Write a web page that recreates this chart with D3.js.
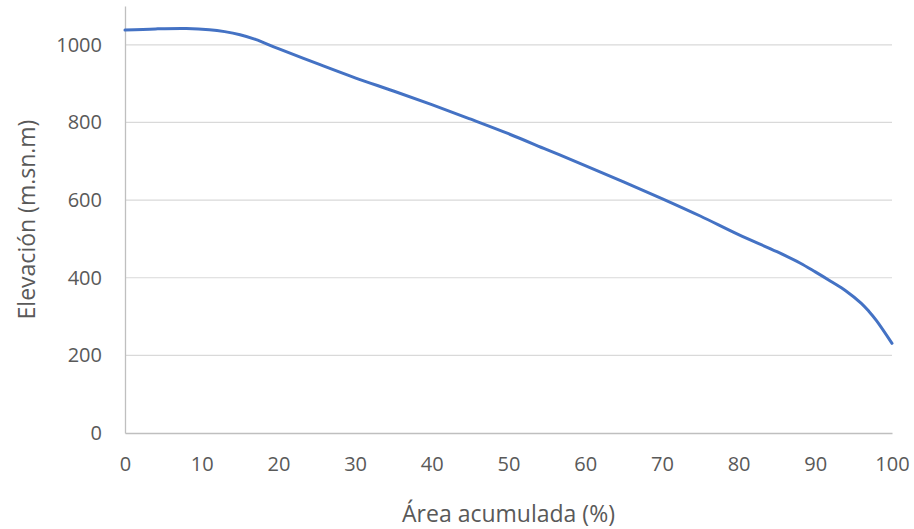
<!DOCTYPE html>
<html>
<head>
<meta charset="utf-8">
<script src="https://cdn.jsdelivr.net/npm/d3@7"></script>
<style>
  body { margin: 0; background: #fff; }
  svg text { font-family: "Open Sans", "Liberation Sans", sans-serif; fill: #595959; }
</style>
</head>
<body>
<svg id="chart" width="914" height="529"></svg>
<script>
// curva hipsométrica: área acumulada (%) vs elevación (m.s.n.m)
const areaPct = [0, 4, 8, 11, 13, 15, 17, 20, 25, 30, 35, 40, 45, 50, 55, 60, 65, 70, 75, 80, 85, 88, 90, 92, 94, 96, 97, 98, 100];
const elevacion = [1038, 1041, 1042, 1039, 1034, 1026, 1014, 990, 952, 915, 881, 846, 809, 771, 730, 689, 647, 604, 559, 511, 467, 438, 415, 391, 366, 334, 313, 289, 231];
const xTicks = [0, 10, 20, 30, 40, 50, 60, 70, 80, 90, 100];
const yTicks = [0, 200, 400, 600, 800, 1000];

const data = areaPct.map((a, i) => ({x: a, y: elevacion[i]}));

const svg = d3.select("#chart"),
    margin = {top: 6, right: 22, bottom: 96, left: 125},
    width = 914 - margin.left - margin.right,
    height = 529 - margin.top - margin.bottom;

const x = d3.scaleLinear().domain([0, 100]).range([0, width]);
const y = d3.scaleLinear().domain([0, 1100]).range([height, 0]);

const g = svg.append("g").attr("transform", `translate(${margin.left},${margin.top})`);

// gridlines
g.append("g").selectAll("line")
    .data(yTicks.filter(d => d > 0))
    .join("line")
    .attr("x1", 0).attr("x2", width)
    .attr("y1", d => y(d)).attr("y2", d => y(d))
    .attr("stroke", "#d9d9d9").attr("stroke-width", 1.2);

// axes
const xAxis = g.append("g").attr("transform", `translate(0,${height})`)
    .call(d3.axisBottom(x).tickValues(xTicks).tickFormat(d3.format("d")).tickSize(0).tickPadding(24));
xAxis.select(".domain").attr("stroke", "#bfbfbf").attr("stroke-width", 1.3);

const yAxis = g.append("g")
    .call(d3.axisLeft(y).tickValues(yTicks).tickFormat(d3.format("d")).tickSize(0).tickPadding(23));
yAxis.select(".domain").attr("stroke", "#bfbfbf").attr("stroke-width", 1.3);

svg.selectAll(".tick text").attr("font-size", 20).style("font-family", null);

// line
g.append("path")
    .datum(data)
    .attr("fill", "none")
    .attr("stroke", "#4472c4")
    .attr("stroke-width", 3)
    .attr("stroke-linecap", "round")
    .attr("d", d3.line().x(d => x(d.x)).y(d => y(d.y)).curve(d3.curveCatmullRom.alpha(0.5)));

// titles
svg.append("text")
    .attr("x", margin.left + width / 2)
    .attr("y", 522)
    .attr("text-anchor", "middle")
    .attr("font-size", 23)
    .text("Área acumulada (%)");

svg.append("text")
    .attr("transform", `translate(35,${margin.top + height / 2}) rotate(-90)`)
    .attr("text-anchor", "middle")
    .attr("font-size", 23)
    .text("Elevación (m.sn.m)");
</script>
</body>
</html>
